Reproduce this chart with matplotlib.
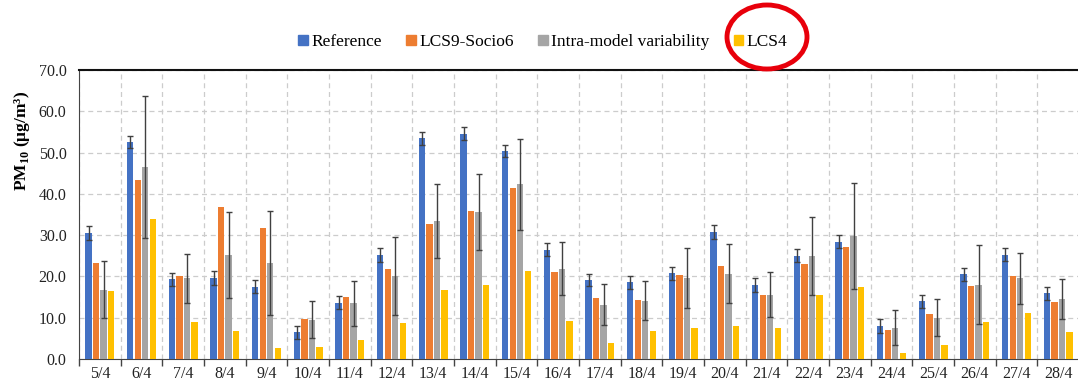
import matplotlib
matplotlib.use('Agg')
import matplotlib.pyplot as plt
from matplotlib.patches import Ellipse, Patch
import numpy as np

# dates
days = ['5/4', '6/4', '7/4', '8/4', '9/4', '10/4', '11/4', '12/4', '13/4', '14/4', '15/4', '16/4',
        '17/4', '18/4', '19/4', '20/4', '21/4', '22/4', '23/4', '24/4', '25/4', '26/4', '27/4', '28/4']

# PM10 values (ug/m3)
reference = [30.5, 52.5, 19.3, 19.6, 17.5, 6.5, 13.6, 25.2, 53.5, 54.6, 50.4, 26.5,
             19.1, 18.6, 20.8, 30.8, 17.9, 25.0, 28.4, 8.0, 14.0, 20.5, 25.3, 15.9]
reference_err = [1.6, 1.4, 1.6, 1.6, 1.6, 1.6, 1.6, 1.6, 1.6, 1.5, 1.5, 1.6,
                 1.5, 1.6, 1.6, 1.7, 1.6, 1.6, 1.6, 1.6, 1.6, 1.6, 1.6, 1.6]
lcs9_socio6 = [23.3, 43.4, 20.0, 36.9, 31.7, 9.7, 14.9, 21.9, 32.8, 35.9, 41.3, 21.0,
               14.7, 14.4, 20.3, 22.6, 15.4, 22.9, 27.1, 7.1, 11.0, 17.7, 20.2, 13.7]
intra_model = [16.8, 46.6, 19.5, 25.2, 23.3, 9.5, 13.5, 20.1, 33.4, 35.7, 42.3, 21.9,
               13.2, 14.1, 19.7, 20.7, 15.6, 25.0, 29.8, 7.6, 10.0, 18.0, 19.5, 14.6]
intra_model_err = [6.9, 17.2, 5.9, 10.5, 12.6, 4.5, 5.4, 9.4, 8.9, 9.2, 11.0, 6.4,
                   4.9, 4.7, 7.3, 7.2, 5.4, 9.4, 12.9, 4.3, 4.5, 9.5, 6.2, 4.8]
lcs4 = [16.5, 33.9, 8.9, 6.8, 2.7, 3.0, 4.6, 8.8, 16.8, 18.0, 21.2, 9.2,
        3.8, 6.7, 7.6, 8.0, 7.4, 15.6, 17.5, 1.4, 3.5, 8.9, 11.1, 6.5]

plt.rcParams['font.family'] = ['Liberation Serif', 'DejaVu Serif']
plt.rcParams['mathtext.fontset'] = 'custom'
plt.rcParams['mathtext.rm'] = 'Liberation Serif'
plt.rcParams['mathtext.bf'] = 'Liberation Serif:bold'

fig = plt.figure(figsize=(10.78, 3.91), dpi=100)
ax = fig.add_axes([79 / 1078, 32 / 391, 1000 / 1078, 289 / 391])

x = np.arange(len(days))
w = 0.15
err_kw = dict(ecolor='#404040', elinewidth=1.0, capsize=2.5, capthick=1.0)

ax.bar(x - 0.27, reference, w, yerr=reference_err, color='#4472C4', error_kw=err_kw, zorder=3)
ax.bar(x - 0.09, lcs9_socio6, w, color='#ED7D31', zorder=3)
ax.bar(x + 0.09, intra_model, w, yerr=intra_model_err, color='#A5A5A5', error_kw=err_kw, zorder=3)
ax.bar(x + 0.27, lcs4, w, color='#FFC000', zorder=3)

ax.set_xlim(-0.5, len(days) - 0.5)
ax.set_ylim(0, 70)

# tick marks at group boundaries, labels at centres
ax.set_xticks(np.arange(-0.5, len(days), 1.0))
ax.set_xticklabels([])
ax.set_xticks(x, minor=True)
ax.set_xticklabels(days, minor=True, fontsize=11.5, color='#222222')
ax.tick_params(axis='x', which='major', direction='out', length=5, width=1, color='#444444')
ax.tick_params(axis='x', which='minor', length=0, pad=5)

ax.set_yticks(np.arange(0, 71, 10))
ax.set_yticklabels([f'{v:.1f}' for v in np.arange(0, 71, 10)], fontsize=11.5, color='#222222')
ax.tick_params(axis='y', length=0, pad=9)

ax.grid(True, which='major', axis='both', color='#CCCCCC', linestyle=(0, (4, 3)), linewidth=0.9, zorder=0)

ax.spines['top'].set_color('#111111')
ax.spines['top'].set_linewidth(1.5)
ax.spines['left'].set_color('#444444')
ax.spines['bottom'].set_color('#444444')
ax.spines['right'].set_visible(False)

ax.set_ylabel(r'PM$_{\mathbf{10}}$ (μg/m³)', fontsize=12.5, fontweight='bold')
ax.yaxis.set_label_coords(-0.047, 0.755)

handles = [Patch(color='#4472C4', label='Reference'),
           Patch(color='#ED7D31', label='LCS9-Socio6'),
           Patch(color='#A5A5A5', label='Intra-model variability'),
           Patch(color='#FFC000', label='LCS4')]
fig.legend(handles=handles, loc='center', bbox_to_anchor=(543 / 1078, 1 - 42 / 391), ncol=4,
           frameon=False, fontsize=12.5, handlelength=0.55, handleheight=0.55, handletextpad=0.2,
           columnspacing=1.4)

# red circle highlighting LCS4
fig.patches.append(Ellipse((767 / 1078, 1 - 37 / 391), 80 / 1078, 64 / 391,
                           transform=fig.transFigure, fill=False, edgecolor='#E8000B', linewidth=3.5))

fig.savefig('out.png', dpi=100)
